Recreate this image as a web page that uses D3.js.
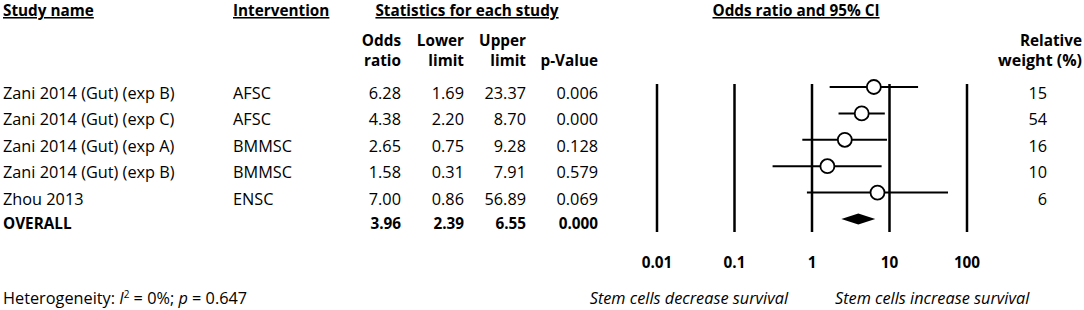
<!DOCTYPE html>
<html>
<head>
<meta charset="utf-8">
<script src="https://cdn.jsdelivr.net/npm/d3@7"></script>
<style>
  body { margin: 0; background: #fff; }
  svg text { font-family: "Open Sans", Lato, sans-serif; fill: #000; }
</style>
</head>
<body>
<svg id="chart" width="1084" height="310"></svg>
<script>
const studies = ["Zani 2014 (Gut) (exp B)", "Zani 2014 (Gut) (exp C)", "Zani 2014 (Gut) (exp A)", "Zani 2014 (Gut) (exp B)", "Zhou 2013"];
const interventions = ["AFSC", "AFSC", "BMMSC", "BMMSC", "ENSC"];
const oddsRatios = [6.28, 4.38, 2.65, 1.58, 7.00];
const lowerLimits = [1.69, 2.20, 0.75, 0.31, 0.86];
const upperLimits = [23.37, 8.70, 9.28, 7.91, 56.89];
const pValues = [0.006, 0.000, 0.128, 0.579, 0.069];
const weights = [15, 54, 16, 10, 6];
const overall = { label: "OVERALL", or: 3.96, lower: 2.39, upper: 6.55, p: 0.000 };
const tickValues = [0.01, 0.1, 1, 10, 100];

const svg = d3.select("#chart");
const fs = 16.3;   // regular text
const fb = 15.3;   // bold text

const x = d3.scaleLog().domain([0.01, 100]).range([657, 967]);
const rows = d3.range(studies.length + 1);
const y = d3.scalePoint().domain(rows).range([87, 219]);

function txt(xp, yp, s, opts = {}) {
    const t = svg.append("text")
        .attr("x", xp).attr("y", yp)
        .attr("text-anchor", opts.anchor || "start")
        .style("font-size", (opts.size || (opts.bold ? fb : fs)) + "px")
        .text(s);
    if (opts.bold) t.style("font-weight", "bold");
    if (opts.italic) t.style("font-style", "italic");
    if (opts.underline) t.style("text-decoration", "underline");
    return t;
}

// column headers
txt(3, 16, "Study name", { bold: true, underline: true });
txt(233, 16, "Intervention", { bold: true, underline: true });
txt(467, 16, "Statistics for each study", { bold: true, underline: true, anchor: "middle" });
txt(796, 16, "Odds ratio and 95% CI", { bold: true, underline: true, anchor: "middle" });

const cols = [
    { x: 401, h: ["Odds", "ratio"] },
    { x: 464, h: ["Lower", "limit"] },
    { x: 526, h: ["Upper", "limit"] },
    { x: 598, h: ["", "p-Value"] }
];
cols.forEach(c => {
    txt(c.x, 46, c.h[0], { bold: true, anchor: "end" });
    txt(c.x, 66, c.h[1], { bold: true, anchor: "end" });
});
txt(1082, 46, "Relative", { bold: true, anchor: "end" });
txt(1082, 66, "weight (%)", { bold: true, anchor: "end", size: 16 });

// table rows
const fmt2 = d3.format(".2f"), fmt3 = d3.format(".3f");
studies.forEach((s, i) => {
    const ty = y(i) + 12;
    txt(3, ty, s);
    txt(233, ty, interventions[i]);
    txt(cols[0].x, ty, fmt2(oddsRatios[i]), { anchor: "end" });
    txt(cols[1].x, ty, fmt2(lowerLimits[i]), { anchor: "end" });
    txt(cols[2].x, ty, fmt2(upperLimits[i]), { anchor: "end" });
    txt(cols[3].x, ty, fmt3(pValues[i]), { anchor: "end" });
    txt(1047, ty, weights[i], { anchor: "end" });
});
const oy = y(studies.length) + 10;
txt(3, oy, overall.label, { bold: true });
txt(cols[0].x, oy, fmt2(overall.or), { bold: true, anchor: "end" });
txt(cols[1].x, oy, fmt2(overall.lower), { bold: true, anchor: "end" });
txt(cols[2].x, oy, fmt2(overall.upper), { bold: true, anchor: "end" });
txt(cols[3].x, oy, fmt3(overall.p), { bold: true, anchor: "end" });

// vertical reference lines
svg.selectAll(".vline").data(tickValues).enter().append("line")
    .attr("class", "vline")
    .attr("x1", d => x(d)).attr("x2", d => x(d))
    .attr("y1", 84).attr("y2", 232)
    .attr("stroke", "#000").attr("stroke-width", 2.5);

// tick labels
svg.selectAll(".tick-label").data(tickValues).enter().append("text")
    .attr("class", "tick-label")
    .attr("x", d => x(d)).attr("y", 268)
    .attr("text-anchor", "middle")
    .style("font-size", fb + "px").style("font-weight", "bold")
    .text(d => d);

// CI lines + markers
const g = svg.append("g");
g.selectAll(".ci").data(studies).enter().append("line")
    .attr("x1", (d, i) => x(lowerLimits[i]))
    .attr("x2", (d, i) => x(upperLimits[i]))
    .attr("y1", (d, i) => y(i)).attr("y2", (d, i) => y(i))
    .attr("stroke", "#000").attr("stroke-width", 2);
g.selectAll(".pt").data(studies).enter().append("circle")
    .attr("cx", (d, i) => x(oddsRatios[i]))
    .attr("cy", (d, i) => y(i))
    .attr("r", 7)
    .attr("fill", "#fff").attr("stroke", "#000").attr("stroke-width", 1.8);

// overall diamond
const dy = y(studies.length);
g.append("path")
    .attr("d", `M${x(overall.lower)},${dy} L${x(overall.or)},${dy - 5.5} L${x(overall.upper)},${dy} L${x(overall.or)},${dy + 5.5} Z`)
    .attr("fill", "#000");

// footer
const het = txt(3, 304, "Heterogeneity: ");
het.append("tspan").style("font-style", "italic").text("I");
het.append("tspan").attr("dy", -6).style("font-size", "10px").text("2");
het.append("tspan").attr("dy", 6).text(" = 0%; ");
het.append("tspan").style("font-style", "italic").text("p");
het.append("tspan").text(" = 0.647");
txt(788, 304, "Stem cells decrease survival", { italic: true, anchor: "end" });
txt(835, 304, "Stem cells increase survival", { italic: true });
</script>
</body>
</html>
